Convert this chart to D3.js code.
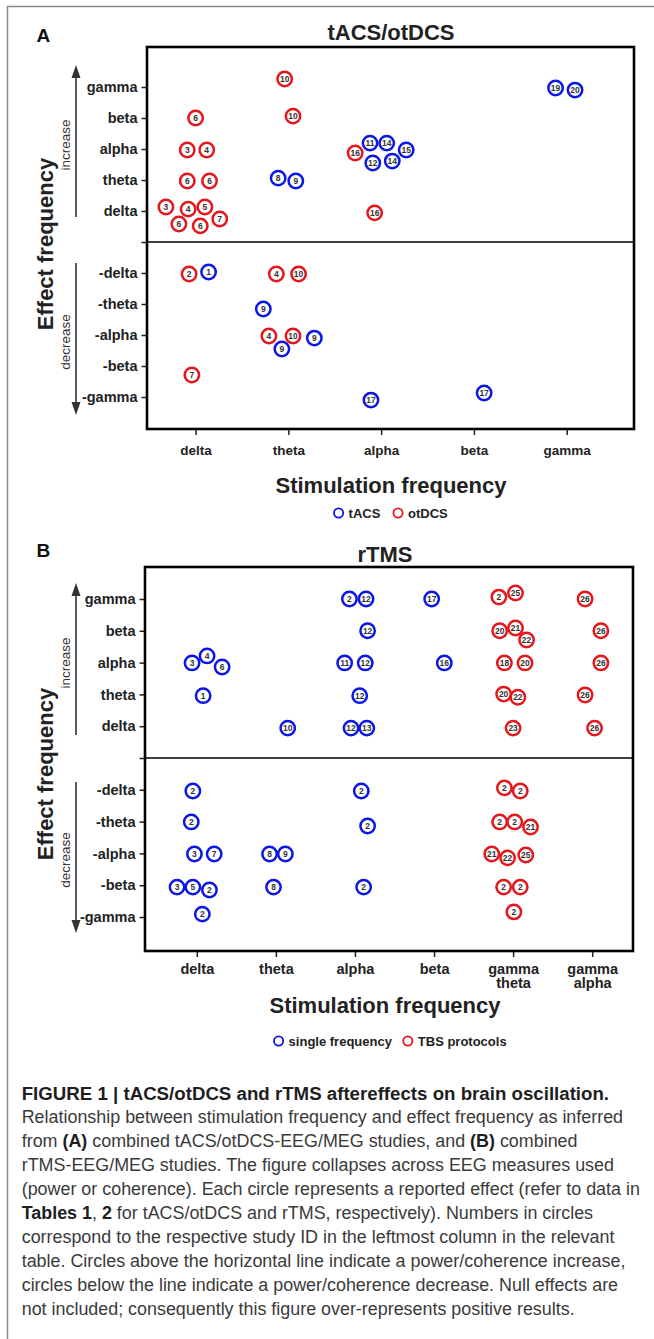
<!DOCTYPE html>
<html><head><meta charset="utf-8">
<script src="https://cdn.jsdelivr.net/npm/d3@7"></script>
<style>body{margin:0;background:#fff}svg{display:block}</style>
</head><body>
<svg id="c" width="654" height="1339"></svg>
<script>
// ---------------- DATA ----------------
const stimCatsA = ["delta","theta","alpha","beta","gamma"];
const stimCatsB = ["delta","theta","alpha","beta","gamma\ntheta","gamma\nalpha"];
const effectCats = ["gamma","beta","alpha","theta","delta","","-delta","-theta","-alpha","-beta","-gamma"];
const seriesA = ["tACS","otDCS"];
const seriesB = ["single frequency","TBS protocols"];
// [stimulation position (category units), effect position (category units), study ID, series index]
const pointsA = [
  [0.96,-0.26,10,1],[3.88,0.03,19,0],[4.09,0.10,20,0],
  [0.00,1.00,6,1],[1.05,0.94,10,1],
  [-0.09,2.03,3,1],[0.12,2.03,4,1],
  [1.72,2.13,16,1],[1.88,1.81,11,0],[2.06,1.81,14,0],[2.27,2.03,15,0],[1.91,2.45,12,0],[2.12,2.39,14,0],
  [-0.09,3.03,6,1],[0.15,3.03,6,1],[0.89,2.94,8,0],[1.08,3.03,9,0],
  [-0.32,3.87,3,1],[-0.08,3.94,4,1],[0.10,3.87,5,1],[0.26,4.26,7,1],[-0.18,4.42,6,1],[0.05,4.48,6,1],
  [1.93,4.06,16,1],
  [-0.07,6.03,2,1],[0.14,5.97,1,0],[0.87,6.03,4,1],[1.11,6.03,10,1],
  [0.73,7.16,9,0],
  [0.79,8.03,4,1],[1.05,8.03,10,1],[1.28,8.10,9,0],[0.93,8.45,9,0],
  [-0.04,9.29,7,1],
  [1.89,10.10,17,0],[3.11,9.87,17,0]
];
const pointsB = [
  [1.93,0.00,2,0],[2.14,0.00,12,0],[2.97,0.00,17,0],[3.82,-0.06,2,1],[4.03,-0.19,25,1],[4.91,0.00,26,1],
  [2.16,1.00,12,0],[3.83,1.00,20,1],[4.03,0.91,21,1],[4.17,1.29,22,1],[5.11,1.00,26,1],
  [-0.06,2.01,3,0],[0.13,1.79,4,0],[0.32,2.14,6,0],[1.87,2.01,11,0],[2.13,2.01,12,0],[3.13,2.01,16,0],
  [3.89,2.01,18,1],[4.15,2.01,20,1],[5.11,2.01,26,1],
  [0.08,3.04,1,0],[2.06,3.04,12,0],[3.88,2.99,20,1],[4.06,3.09,22,1],[4.91,3.02,26,1],
  [1.15,4.06,10,0],[1.95,4.06,12,0],[2.15,4.06,13,0],[4.00,4.06,23,1],[5.03,4.06,26,1],
  [-0.05,6.04,2,0],[2.08,6.04,2,0],[3.89,5.94,2,1],[4.09,6.04,2,1],
  [-0.07,7.01,2,0],[2.16,7.14,2,0],[3.83,7.01,2,1],[4.02,7.01,2,1],[4.22,7.17,21,1],
  [-0.03,8.02,3,0],[0.22,8.02,7,0],[0.92,8.02,8,0],[1.12,8.02,9,0],[3.73,8.02,21,1],[3.93,8.14,22,1],[4.16,8.05,25,1],
  [-0.25,9.06,3,0],[-0.05,9.06,5,0],[0.16,9.15,2,0],[0.97,9.06,8,0],[2.11,9.06,2,0],[3.88,9.06,2,1],[4.09,9.06,2,1],
  [0.07,9.91,2,0],[4.01,9.84,2,1]
];
const captionLines = [
  [["FIGURE 1 | tACS/otDCS and rTMS aftereffects on brain oscillation.",1]],
  [["Relationship between stimulation frequency and effect frequency as inferred",0]],
  [["from ",0],["(A)",1],[" combined tACS/otDCS-EEG/MEG studies, and ",0],["(B)",1],[" combined",0]],
  [["rTMS-EEG/MEG studies. The figure collapses across EEG measures used",0]],
  [["(power or coherence). Each circle represents a reported effect (refer to data in",0]],
  [["Tables 1",1],[", ",0],["2",1],[" for tACS/otDCS and rTMS, respectively). Numbers in circles",0]],
  [["correspond to the respective study ID in the leftmost column in the relevant",0]],
  [["table. Circles above the horizontal line indicate a power/coherence increase,",0]],
  [["circles below the line indicate a power/coherence decrease. Null effects are",0]],
  [["not included; consequently this figure over-represents positive results.",0]]
];

// ---------------- STYLE ----------------
const FONT = "'Liberation Sans', Arial, Helvetica, sans-serif";
const COLORS = ["#0b17e6", "#e5161c"];
const INK = "#222";

const svg = d3.select("#c").style("font-family", FONT);

// outer figure frame
svg.append("path").attr("d","M7.5,1339V6.5H654").attr("fill","none").attr("stroke","#8a8a8a").attr("stroke-width",1.5);

function drawPanel(cfg){
  const g = svg.append("g");
  const n = cfg.cats.length;
  const x = d3.scaleLinear().domain([0, n-1]).range(cfg.xRange);
  const y = d3.scaleLinear().domain([0, 10]).range(cfg.yRange);

  // panel letter & title
  g.append("text").attr("x",cfg.letterX).attr("y",cfg.letterY).text(cfg.letter)
    .attr("font-size",19).attr("font-weight","bold").attr("fill","#111");
  g.append("text").attr("x",cfg.titleX).attr("y",cfg.titleY).attr("text-anchor","middle").text(cfg.title)
    .attr("font-size",22).attr("font-weight","bold").attr("fill",INK);

  // y axis
  const ya = g.append("g").attr("transform",`translate(${cfg.box[0]},0)`)
    .call(d3.axisLeft(y).tickValues(d3.range(11)).tickFormat(i=>effectCats[i]).tickSize(5.5).tickPadding(4));
  ya.select(".domain").remove();
  ya.selectAll("line").attr("stroke",INK).attr("stroke-width",1.5);
  ya.selectAll("text").attr("font-size",14.5).attr("font-weight","bold").attr("fill",INK).attr("font-family",FONT);

  // x axis
  const xa = g.append("g").attr("transform",`translate(0,${cfg.box[3]})`)
    .call(d3.axisBottom(x).tickValues(d3.range(n)).tickSize(6).tickFormat(""));
  xa.select(".domain").remove();
  xa.selectAll("line").attr("stroke",INK).attr("stroke-width",1.5);
  xa.selectAll(".tick").append("text").each(function(i){
    const t = d3.select(this).attr("text-anchor","middle").attr("fill",INK)
      .attr("font-size",cfg.xFont).attr("font-weight","bold").attr("font-family",FONT);
    cfg.cats[i].split("\n").forEach((s,k)=>{
      t.append("tspan").attr("x",0).attr("y",cfg.xLabelDy + k*14).text(s);
    });
  });

  // box and divider
  g.append("rect").attr("x",cfg.box[0]).attr("y",cfg.box[1])
    .attr("width",cfg.box[2]-cfg.box[0]).attr("height",cfg.box[3]-cfg.box[1])
    .attr("fill","none").attr("stroke","#000").attr("stroke-width",2.6);
  g.append("line").attr("x1",cfg.box[0]).attr("x2",cfg.box[2]).attr("y1",y(5)).attr("y2",y(5))
    .attr("stroke","#000").attr("stroke-width",1.6);

  // axis titles
  g.append("text").attr("transform",`translate(${cfg.yTitleX},${cfg.yTitleY}) rotate(-90)`)
    .attr("text-anchor","middle").text("Effect frequency")
    .attr("font-size",22).attr("font-weight","bold").attr("fill",INK);
  g.append("text").attr("x",cfg.titleX).attr("y",cfg.xTitleY).attr("text-anchor","middle")
    .text("Stimulation frequency").attr("font-size",22).attr("font-weight","bold").attr("fill",INK);

  // arrows
  const ax = 76;
  function arrow(y0, y1){
    const dir = Math.sign(y1 - y0);
    g.append("line").attr("x1",ax).attr("x2",ax).attr("y1",y0).attr("y2",y1 - dir*10)
      .attr("stroke","#333").attr("stroke-width",1.6);
    g.append("path").attr("d",`M${ax},${y1}L${ax-4.5},${y1-dir*13}L${ax+4.5},${y1-dir*13}Z`).attr("fill","#333");
  }
  arrow(cfg.upArrow[0], cfg.upArrow[1]);
  arrow(cfg.downArrow[0], cfg.downArrow[1]);
  g.append("text").attr("transform",`translate(70,${cfg.incY}) rotate(-90)`).attr("text-anchor","middle")
    .text("increase").attr("font-size",13.5).attr("fill","#333");
  g.append("text").attr("transform",`translate(70,${cfg.decY}) rotate(-90)`).attr("text-anchor","middle")
    .text("decrease").attr("font-size",13.5).attr("fill","#333");

  // points
  const pts = g.append("g").selectAll("g").data(cfg.points).join("g")
    .attr("transform", d=>`translate(${x(d[0])},${y(d[1])})`);
  pts.append("circle").attr("r",7.2).attr("fill","#fff")
    .attr("stroke", d=>COLORS[d[3]]).attr("stroke-width",2.5);
  pts.append("text").attr("text-anchor","middle").attr("dy","0.36em").text(d=>d[2])
    .attr("font-size",8.5).attr("font-weight","bold").attr("fill","#333");

  // legend
  const lg = g.append("g");
  cfg.series.forEach((s,i)=>{
    lg.append("circle").attr("cx",cfg.legend[i][0]).attr("cy",cfg.legendY).attr("r",4.6)
      .attr("fill","none").attr("stroke",COLORS[i]).attr("stroke-width",1.8);
    lg.append("text").attr("x",cfg.legend[i][0]+10).attr("y",cfg.legendY).attr("dy","0.36em").text(s)
      .attr("font-size",13).attr("font-weight","bold").attr("fill",INK);
  });
}

drawPanel({
  letter:"A", letterX:36.5, letterY:42, title:"tACS/otDCS", titleX:391, titleY:40,
  cats:stimCatsA, xRange:[195.6,566.7], yRange:[87,397], box:[147,47,634,429],
  xFont:13.5, xLabelDy:26, yTitleX:53, yTitleY:244, xTitleY:493,
  upArrow:[217,65], downArrow:[263,415], incY:145, decY:342,
  points:pointsA, series:seriesA, legend:[[338.6],[398]], legendY:513
});
drawPanel({
  letter:"B", letterX:36.5, letterY:557, title:"rTMS", titleX:385, titleY:562,
  cats:stimCatsB, xRange:[196.8,592.2], yRange:[599,917], box:[145,567,633,951],
  xFont:14.5, xLabelDy:23, yTitleX:53, yTitleY:774, xTitleY:1013,
  upArrow:[735,583], downArrow:[782,933], incY:663, decY:860,
  points:pointsB, series:seriesB, legend:[[278.6],[407.8]], legendY:1041
});

// caption
const cap = svg.append("g");
const capTargets = {0:588, 1:602};
captionLines.forEach((line,k)=>{
  const t = cap.append("text").attr("x",0).attr("y", k===0 ? 1100 : 1123 + 24*(k-1))
    .attr("font-size",18.5).attr("fill", k===0 ? "#1e1e1e" : "#3a3a3a");
  line.forEach(([s,b])=>{
    t.append("tspan").text(s).attr("font-weight", b ? "bold" : "normal").attr("fill", b ? "#1e1e1e" : null);
  });
});
const capTexts = cap.selectAll("text").nodes();
const sTitle = capTargets[0] / capTexts[0].getComputedTextLength();
const sBody = capTargets[1] / capTexts[1].getComputedTextLength();
capTexts.forEach((node,k)=>{
  const s = k===0 ? sTitle : sBody;
  d3.select(node).attr("transform",`translate(21.7,0) scale(${s},1)`);
});
</script>
</body></html>
